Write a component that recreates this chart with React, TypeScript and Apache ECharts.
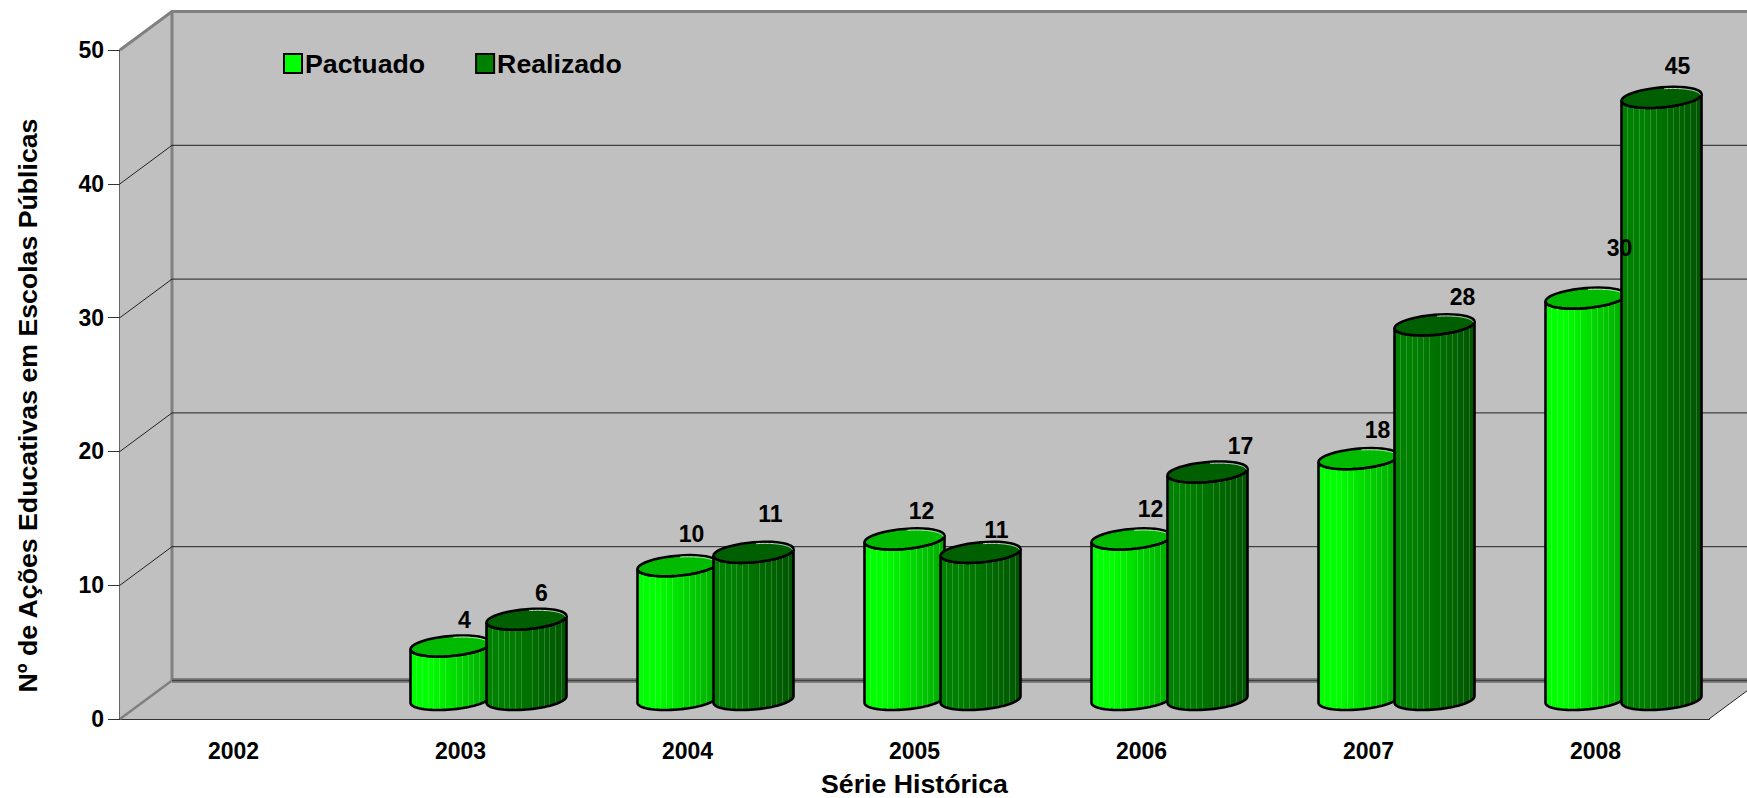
import React, { useEffect, useRef } from "react";
import * as echarts from "echarts";

const categories = ["2002", "2003", "2004", "2005", "2006", "2007", "2008"];
const pactuado: (number | null)[] = [null, 4, 10, 12, 12, 18, 30];
const realizado: (number | null)[] = [null, 6, 11, 11, 17, 28, 45];
const yTicks = [10, 20, 30, 40];
const pactuadoNudge = [[0, 0], [14, -26], [14, -32], [17, -28], [19, -30], [19, -29], [34, -50]];
const realizadoNudge = [[0, 0], [15, -26], [17, -38], [16, -22], [33, -26], [28, -28], [16, -31]];

const FONT = "Liberation Sans";
const DEPTH_X = 52;
const DEPTH_Y = -38.5;
const BAR_DX = 28;
const BAR_DY = -19.5;

function hex(c: number[]) {
  return "rgb(" + c.map((v) => Math.round(v)).join(",") + ")";
}
function mix(a: number[], b: number[], t: number) {
  return a.map((v, i) => v + (b[i] - v) * t);
}
function barFill(left: number[], right: number[], stripe: number[]) {
  const stops: { offset: number; color: string }[] = [];
  const colorAt = (t: number) => mix(left, right, t < 0.25 ? 0 : (t - 0.25) / 0.75);
  const n = 14;
  for (let i = 0; i <= n; i++) {
    const t = i / n;
    const c = colorAt(t);
    stops.push({ offset: Math.max(0, t - 0.0001), color: hex(c) });
    if (i > 0 && i < n) {
      const s = mix(c, stripe, 0.18);
      stops.push({ offset: t + 0.001, color: hex(s) });
      stops.push({ offset: t + 0.012, color: hex(s) });
      stops.push({ offset: t + 0.0121, color: hex(colorAt(t + 0.012)) });
    }
  }
  return new echarts.graphic.LinearGradient(0, 0, 1, 0, stops);
}

function ellipsePts(cx: number, cy: number, from: number, to: number) {
  const pts: number[][] = [];
  const steps = 40;
  for (let i = 0; i <= steps; i++) {
    const t = from + ((to - from) * i) / steps;
    pts.push([cx + 40 * Math.cos(t), cy - 3.3 * Math.cos(t) + 10 * Math.sin(t)]);
  }
  return pts;
}

function cylinderSeries(name: string, values: (number | null)[], shift: number, left: number[], right: number[], topColor: string, rim: string, z: number) {
  return {
    type: "custom",
    name,
    z,
    clip: false,
    data: values.map((v, i) => [i, v]),
    encode: { x: 0, y: 1 },
    renderItem: (params: any, api: any) => {
      const v = api.value(1);
      if (v === null || v === undefined || isNaN(v)) return null;
      const top = api.coord([api.value(0), v]);
      const base = api.coord([api.value(0), 0]);
      const cx = top[0] + BAR_DX + shift;
      const topY = top[1] + BAR_DY;
      const baseY = base[1] + BAR_DY;
      const body = [
        ...ellipsePts(cx, baseY, Math.PI, 0),
        ...ellipsePts(cx, topY, 0, Math.PI),
      ];
      return {
        type: "group",
        children: [
          {
            type: "polygon",
            shape: { points: body },
            style: { fill: barFill(left, right, [255, 255, 255]), stroke: "#000", lineWidth: 2.6 },
          },
          {
            type: "polygon",
            shape: { points: ellipsePts(cx, topY, 0, Math.PI * 2) },
            style: { fill: topColor, stroke: "#000", lineWidth: 2.6 },
          },
          {
            type: "polyline",
            shape: { points: ellipsePts(cx, topY + 1.6, -Math.PI * 0.47, -Math.PI * 0.03).map((p) => [p[0] - 1, p[1]]) },
            style: { fill: "none", stroke: rim, lineWidth: 1 },
          },
        ],
      };
    },
  };
}

function labelSeries(values: (number | null)[], nudge: number[][], shift: number) {
  return {
    type: "custom",
    z: 20,
    clip: false,
    silent: true,
    data: values.map((v, i) => [i, v]),
    encode: { x: 0, y: 1 },
    renderItem: (params: any, api: any) => {
      const v = api.value(1);
      if (v === null || v === undefined || isNaN(v)) return null;
      const p = api.coord([api.value(0), v]);
      const n = nudge[params.dataIndex];
      return {
        type: "text",
        z2: 100,
        style: {
          x: p[0] + BAR_DX + shift + n[0],
          y: p[1] + BAR_DY + n[1],
          text: String(v),
          fill: "#000",
          font: "bold 23px '" + FONT + "'",
          align: "center",
          verticalAlign: "middle",
        },
      };
    },
  };
}

const wallsSeries = {
  type: "custom",
  z: 1,
  clip: false,
  silent: true,
  data: [[0, 0]],
  encode: { x: 0, y: 1 },
  renderItem: (params: any, api: any) => {
    const cs = params.coordSys;
    const x0 = cs.x;
    const x1 = cs.x + cs.width;
    const yb = api.coord([0, 0])[1];
    const yt = api.coord([0, 50])[1];
    const d = (p: number[]) => [p[0] + DEPTH_X, p[1] + DEPTH_Y];
    const wall = "#c0c0c0";
    const edge = "#808080";
    const noFill = { fill: "none" };
    return {
      type: "group",
      children: [
        { type: "polygon", shape: { points: [d([x0, yt]), d([x1, yt]), d([x1, yb]), d([x0, yb])] }, style: { fill: wall } },
        { type: "polygon", shape: { points: [[x0, yt], d([x0, yt]), d([x0, yb]), [x0, yb]] }, style: { fill: wall } },
        { type: "polygon", shape: { points: [[x0, yb], d([x0, yb]), d([x1, yb]), [x1, yb]] }, style: { fill: wall } },
        { type: "polyline", shape: { points: [[x0, yt], d([x0, yt]), d([x1 + 40, yt])] }, style: { ...noFill, stroke: edge, lineWidth: 3 } },
        { type: "polyline", shape: { points: [d([x0, yt]), d([x0, yb])] }, style: { ...noFill, stroke: edge, lineWidth: 3 } },
        { type: "polyline", shape: { points: [[x0, yb], d([x0, yb])] }, style: { ...noFill, stroke: edge, lineWidth: 2.5 } },
        { type: "polyline", shape: { points: [d([x0, yb]), d([x1, yb])] }, style: { ...noFill, stroke: edge, lineWidth: 5 } },
        { type: "polyline", shape: { points: [d([x0, yb]), d([x1, yb])] }, style: { ...noFill, stroke: "#404040", lineWidth: 1.5 } },
        { type: "polyline", shape: { points: [[x1, yb], d([x1, yb])] }, style: { ...noFill, stroke: "#222", lineWidth: 1 } },
      ],
    };
  },
};

const gridSeries = {
  type: "custom",
  z: 2,
  clip: false,
  silent: true,
  data: yTicks.map((v) => [0, v]),
  encode: { x: 0, y: 1 },
  renderItem: (params: any, api: any) => {
    const cs = params.coordSys;
    const y = api.coord([0, api.value(1)])[1];
    return {
      type: "polyline",
      shape: {
        points: [
          [cs.x, y],
          [cs.x + DEPTH_X, y + DEPTH_Y],
          [cs.x + cs.width + DEPTH_X, y + DEPTH_Y],
        ],
      },
      style: { fill: "none", stroke: "#222", lineWidth: 1 },
    };
  },
};

export default function App() {
  const ref = useRef<HTMLDivElement>(null);
  useEffect(() => {
    const chart = echarts.init(ref.current!, null, { renderer: "svg" });
    const axisText = { fontFamily: FONT, fontWeight: "bold", color: "#000" } as const;
    chart.setOption({
      animation: false,
      backgroundColor: "#ffffff",
      grid: { left: 120, right: 38, top: 50, height: 669, outerBoundsMode: "none", containLabel: false },
      legend: {
        left: 278,
        top: 45,
        itemWidth: 18,
        itemHeight: 19,
        itemGap: 50,
        selectedMode: false,
        textStyle: { ...axisText, fontSize: 26.7, padding: [5, 0, 0, -2] },
        data: [
          { name: "Pactuado", icon: "rect", itemStyle: { color: "#00ff00", borderColor: "#000", borderWidth: 2 } },
          { name: "Realizado", icon: "rect", itemStyle: { color: "#008000", borderColor: "#000", borderWidth: 2 } },
        ],
      },
      xAxis: {
        type: "category",
        data: categories,
        name: "Série Histórica",
        nameLocation: "middle",
        nameGap: 51,
        nameTextStyle: { ...axisText, fontSize: 26.7 },
        axisLine: { lineStyle: { color: "#333", width: 2 } },
        axisTick: { length: 12, lineStyle: { color: "#333", width: 1 }, alignWithLabel: false },
        axisLabel: { ...axisText, fontSize: 23, margin: 20 },
      },
      yAxis: {
        type: "value",
        min: 0,
        max: 50,
        interval: 10,
        name: "Nº de Ações Educativas em Escolas Públicas",
        nameLocation: "middle",
        nameGap: 79,
        nameTextStyle: { ...axisText, fontSize: 26.7, padding: [0, 42, 0, 0] },
        splitLine: { show: false },
        axisLine: { show: true, lineStyle: { color: "#333", width: 1.5 } },
        axisTick: { show: true, length: 12, lineStyle: { color: "#333", width: 1 } },
        axisLabel: { ...axisText, fontSize: 23, margin: 16 },
      },
      series: [
        wallsSeries,
        gridSeries,
        cylinderSeries("Pactuado", pactuado, -38, [0, 255, 0], [0, 168, 0], "#00bb00", "#cfe8cf", 5),
        cylinderSeries("Realizado", realizado, 38, [0, 128, 0], [0, 84, 0], "#005f00", "#cfdccf", 6),
        labelSeries(pactuado, pactuadoNudge, -38),
        labelSeries(realizado, realizadoNudge, 38),
      ],
    });
    return () => chart.dispose();
  }, []);
  return <div ref={ref} style={{ position: "absolute", left: 0, top: 0, width: 1747, height: 798 }} />;
}
